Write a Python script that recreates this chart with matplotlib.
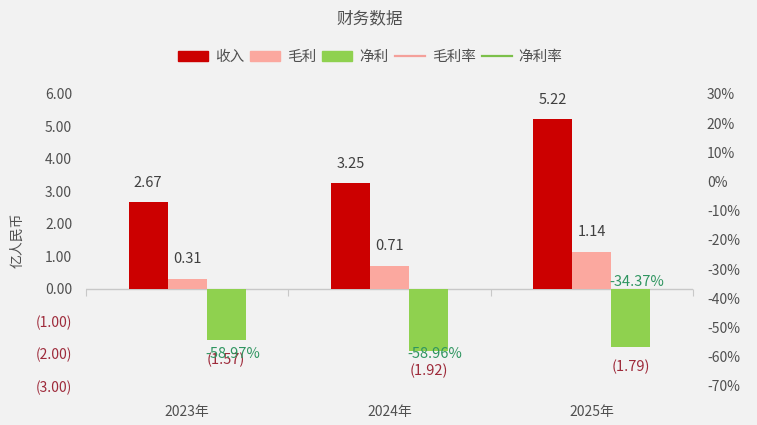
import matplotlib.pyplot as plt
from matplotlib.lines import Line2D
from matplotlib.patches import Patch
from matplotlib.ticker import FuncFormatter, FixedLocator
import numpy as np

plt.rcParams['font.family'] = ['Noto Sans CJK SC', 'DejaVu Sans']

# data
years = ['2023年', '2024年', '2025年']
revenue = [2.67, 3.25, 5.22]      # 收入
gross = [0.31, 0.71, 1.14]        # 毛利
net = [-1.57, -1.92, -1.79]       # 净利
net_margin = [-58.97, -58.96, -34.37]  # 净利率 (%)

c_rev = '#cc0000'
c_gross = '#fba89f'
c_net = '#8fd14f'
c_gm_line = '#f4a09a'
c_nm_line = '#7cc04a'
bg = '#f2f2f2'
txt = '#505050'
neg_red = '#9e2a3a'
green_txt = '#2f9560'

fig = plt.figure(figsize=(7.57, 4.25), dpi=100, facecolor=bg)
ax = fig.add_axes([0.1136, 0.0918, 0.8019, 0.6872])
ax.set_facecolor(bg)

x = np.arange(len(years))
w = 0.193
b1 = ax.bar(x - w, revenue, w, color=c_rev, zorder=2)
b2 = ax.bar(x, gross, w, color=c_gross, zorder=2)
b3 = ax.bar(x + w, net, w, color=c_net, zorder=2)

ax.set_xlim(-0.5, 2.5)
ax.set_ylim(-3, 6)
ax.set_yticks(np.arange(-3, 7, 1))

def money(v, pos=None):
    return '(%.2f)' % abs(v) if v < 0 else '%.2f' % v

ax.yaxis.set_major_formatter(FuncFormatter(money))
ax.tick_params(axis='y', length=0, pad=10, labelsize=10, labelcolor=txt)
for lab, v in zip(ax.get_yticklabels(), ax.get_yticks()):
    if v < 0:
        lab.set_color(neg_red)
ax.set_ylabel('亿人民币', fontsize=10, color=txt, labelpad=8)

ax.set_xticks(x, years)
ax.tick_params(axis='x', length=0, pad=14, labelsize=10, labelcolor=txt)
for s in ax.spines.values():
    s.set_visible(False)

# zero line with category boundary ticks
ax.axhline(0, color='#c8c8c8', lw=1, zorder=1)
zero_frac = (0 - (-3)) / 9
sec = ax.secondary_xaxis(zero_frac)
sec.xaxis.set_major_locator(FixedLocator([-0.5, 0.5, 1.5, 2.5]))
sec.tick_params(direction='out', length=5, color='#c8c8c8', labelbottom=False,
                labeltop=False, bottom=True, top=False)
sec.spines['bottom'].set_visible(False)
sec.spines['top'].set_visible(False)

# bar value labels
for bars, vals in [(b1, revenue), (b2, gross), (b3, net)]:
    for r, v in zip(bars, vals):
        xc = r.get_x() + r.get_width() / 2
        if v >= 0:
            ax.annotate('%.2f' % v, (xc, v), xytext=(0, 14), textcoords='offset points',
                        ha='center', va='center', fontsize=10.5, color='#404040')
        else:
            ax.annotate(money(v), (xc, v), xytext=(0, -14.5), textcoords='offset points',
                        ha='center', va='center', fontsize=10.5, color=neg_red)

# right axis: margins
ax2 = ax.twinx()
ax2.set_ylim(-70, 30)
ax2.set_yticks(np.arange(-70, 31, 10))
ax2.yaxis.set_major_formatter(FuncFormatter(lambda v, p: '%d%%' % v))
ax2.tick_params(axis='y', length=0, pad=10, labelsize=10, labelcolor=txt)
for s in ax2.spines.values():
    s.set_visible(False)
ax2.plot(x + w, net_margin, color=c_nm_line, alpha=0)
for xi, m in zip(x + w, net_margin):
    ax2.annotate('%.2f%%' % m, (xi, m), xytext=(4.5, 0), textcoords='offset points',
                 ha='center', va='center', fontsize=10.5, color=green_txt, zorder=5)

fig.text(0.489, 0.955, '财务数据', ha='center', va='center', fontsize=12, color=txt)

handles = [Patch(color=c_rev), Patch(color=c_gross), Patch(color=c_net),
           Line2D([], [], color=c_gm_line, lw=1.6), Line2D([], [], color=c_nm_line, lw=1.6)]
labels = ['收入', '毛利', '净利', '毛利率', '净利率']
fig.legend(handles, labels, loc='center', bbox_to_anchor=(0.489, 0.865), ncol=5,
           frameon=False, fontsize=10.5, handlelength=2.05, handleheight=0.72,
           handletextpad=0.48, columnspacing=0.42, labelcolor=txt)

plt.savefig('out.png', dpi=100, facecolor=bg)
